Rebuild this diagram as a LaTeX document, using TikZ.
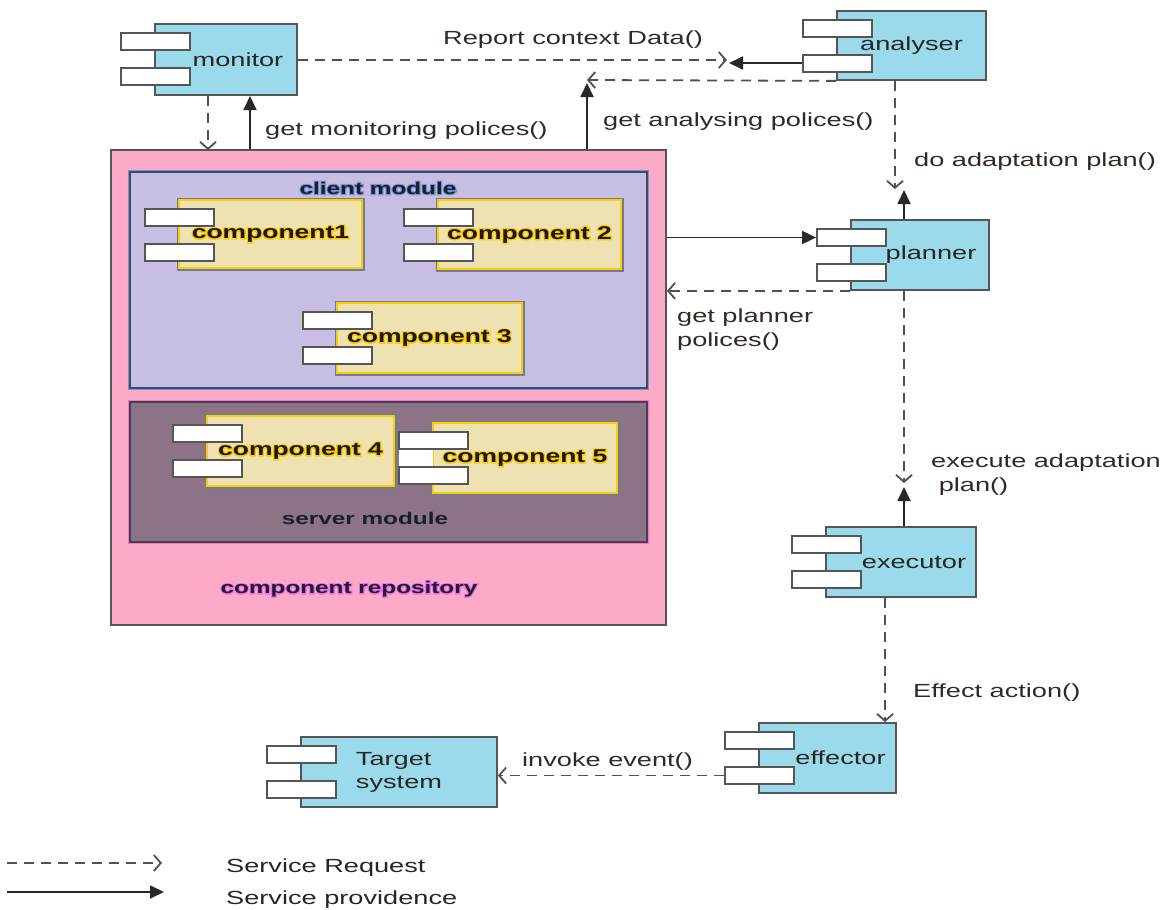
\documentclass[tikz,border=0pt]{standalone}
\usepackage{fontspec}
\setmainfont[FakeStretch=1.43]{Liberation Sans}
\usetikzlibrary{arrows.meta,fit}

\definecolor{partblue}{RGB}{155,218,234}
\definecolor{repopink}{RGB}{252,170,200}
\definecolor{repoglow}{RGB}{245,110,235}
\definecolor{clientlilac}{RGB}{200,190,228}
\definecolor{clientedge}{RGB}{65,75,100}
\definecolor{clientglow}{RGB}{120,150,205}
\definecolor{servermauve}{RGB}{140,116,134}
\definecolor{compsand}{RGB}{238,226,178}
\definecolor{compgold}{RGB}{255,204,0}
\definecolor{compedge}{RGB}{110,125,150}
\definecolor{edgegray}{RGB}{85,85,85}
\definecolor{reqgray}{RGB}{80,80,80}
\definecolor{provgray}{RGB}{40,40,40}
\definecolor{labelbrown}{RGB}{50,40,36}
\definecolor{modtext}{RGB}{25,30,50}

% text with a coloured halo behind it
\newcommand\halo[2]{\leavevmode\rlap{\textcolor{#1}{\addfontfeature{FakeBold=14}#2}}#2}

\begin{document}
\begin{tikzpicture}[
    x=1pt, y=-1pt,
    box/.style={inner sep=0pt, line width=1.8pt, draw=edgegray},
    part/.style={box, fill=partblue, text=black!85, font=\fontsize{19}{23}\selectfont},
    comp/.style={inner sep=0pt, fill=compsand, draw=compgold, line width=2.5pt,
        preaction={draw=compedge, line width=5pt},
        text=black!90, font=\bfseries\fontsize{18.5}{22}\selectfont},
    tab/.style={box, fill=white},
    lshift/.style={execute at begin node={\hspace*{#1}}},
    modlbl/.style={inner sep=0pt, text=modtext, font=\bfseries\fontsize{17}{21}\selectfont},
    lbl/.style={anchor=west, inner sep=0pt, align=left, text=labelbrown,
        font=\fontsize{19}{24}\selectfont},
    req/.style={draw=reqgray, line width=1.8pt, dash pattern=on 10pt off 7pt,
        -{Straight Barb[length=7pt,width=16pt]}},
    prov/.style={draw=provgray, line width=1.8pt, -{Triangle[length=14pt,width=13pt]}}
]
\useasboundingbox (0,0) rectangle (1168,910);

% Component repository and its modules
\node[box, fill=repopink, fit={(111,150) (666,625)}] (repo) {};
\node[box, fill=clientlilac, draw=clientedge, preaction={draw=clientglow, line width=4.5pt},
    fit={(130,172) (647,388)}] (client) {};
\node[box, fill=servermauve, draw=edgegray!80!black, preaction={draw=repoglow, line width=3.5pt},
    fit={(130,402) (647,542)}] (server) {};

\node[modlbl] (client-lbl) at (378,188) {\halo{clientglow}{client module}};
\node[modlbl] (server-lbl) at (365,518) {server module};
\node[modlbl] (repo-lbl) at (349,589) {\halo{repoglow}{component repository}};

% Components inside the modules
\node[comp, minimum width=183pt, minimum height=68pt] (comp1) at (270.5,234) {\halo{compgold}{component1}};
\node[comp, minimum width=183pt, minimum height=69pt] (comp2) at (529.5,234.5) {\halo{compgold}{component 2}};
\node[comp, minimum width=185pt, minimum height=70pt] (comp3) at (429.5,338) {\halo{compgold}{component 3}};
\node[comp, minimum width=187pt, minimum height=70pt] (comp4) at (300.5,451) {\halo{compgold}{component 4}};
\node[comp, minimum width=184pt, minimum height=70pt] (comp5) at (525,458) {\halo{compgold}{component 5}};
\fill[white] (399,434) rectangle (433,481);

% MAPE parts
\node[part, lshift=24pt, minimum width=142pt, minimum height=71pt] (monitor) at (226,59.5) {monitor};
\node[part, minimum width=149pt, minimum height=69pt] (analyser) at (911.5,45.5) {analyser};
\node[part, lshift=22pt, minimum width=138pt, minimum height=70pt] (planner) at (920,255) {planner};
\node[part, lshift=26pt, minimum width=150pt, minimum height=70pt] (executor) at (901,562) {executor};
\node[part, lshift=26pt, minimum width=137pt, minimum height=70pt] (effector) at (827.5,758) {effector};
\node[part, align=left, minimum width=196pt, minimum height=70pt] (target) at (399,772) {Target\\system};

% Component tabs
\foreach \n/\l/\t in {monitor/155/24, analyser/837/11, planner/851/220,
    executor/826/527, effector/759/723, target/301/737, comp1/179/200,
    comp2/438/200, comp3/337/303, comp4/207/416, comp5/433/423} {
    \node[tab, fit={(\l-34,\t+9) (\l+35,\t+26)}] (\n-a) {};
    \node[tab, fit={(\l-34,\t+44) (\l+35,\t+61)}] (\n-b) {};
}

% Report context data
\coordinate (rep-req) at (727,60);
\coordinate (rep-prov) at (729,63);
\draw[req] (monitor.east |- rep-req) -- (rep-req);
\draw[prov] (analyser-b.west |- rep-prov) -- (rep-prov);

% Analysing polices
\coordinate (ana-req) at (587,80);
\coordinate (ana-prov) at (587,83);
\draw[req] (analyser.south west) -- (ana-req);
\draw[prov] (repo.north -| ana-prov) -- (ana-prov);

% Monitoring polices
\coordinate (mon-req) at (208,150);
\coordinate (mon-prov) at (250,96);
\draw[req] (monitor.south -| mon-req) -- (mon-req);
\draw[prov] (repo.north -| mon-prov) -- (mon-prov);

% Adaptation plan
\coordinate (plan-req) at (895,189);
\coordinate (plan-prov) at (904,190);
\draw[req] (analyser.south -| plan-req) -- (plan-req);
\draw[prov] (planner.north -| plan-prov) -- (plan-prov);

% Planner and repository
\draw[prov] (repo.east |- planner-a) -- (planner-a);
\draw[req] (planner.south west) -- (repo.east |- planner.south west);

% Execution
\coordinate (exe-req) at (904,483);
\coordinate (exe-prov) at (904,487);
\draw[req] (planner.south -| exe-req) -- (exe-req);
\draw[prov] (executor.north -| exe-prov) -- (exe-prov);

% Effect and invoke
\draw[req] ([xshift=-16pt]executor.south) -- ([xshift=-16pt]executor.south |- effector.north);
\draw[req] (effector-b) -- (target.east |- effector-b);

% Labels
\node[lbl] (report-lbl) at (443,40) {Report context Data()};
\node[lbl] (mon-lbl) at (265,131) {get monitoring polices()};
\node[lbl] (ana-lbl) at (603,122) {get analysing polices()};
\node[lbl] (plan-lbl) at (914,162) {do adaptation plan()};
\node[lbl] (pol-lbl) at (677,330) {get planner\\polices()};
\node[lbl] (exe-lbl) at (931,475) {execute adaptation\\\hspace*{.4em}plan()};
\node[lbl] (eff-lbl) at (913,693) {Effect action()};
\node[lbl] (inv-lbl) at (522,762) {invoke event()};

% Legend
\coordinate (leg-req-a) at (7,863);
\coordinate (leg-req-b) at (162,863);
\coordinate (leg-prov-a) at (7,892);
\coordinate (leg-prov-b) at (164,892);
\draw[req] (leg-req-a) -- (leg-req-b);
\draw[prov] (leg-prov-a) -- (leg-prov-b);
\node[lbl, text=black!85] (req-lbl) at (226,868) {Service Request};
\node[lbl, text=black!85] (prov-lbl) at (226,900) {Service providence};
\end{tikzpicture}
\end{document}
